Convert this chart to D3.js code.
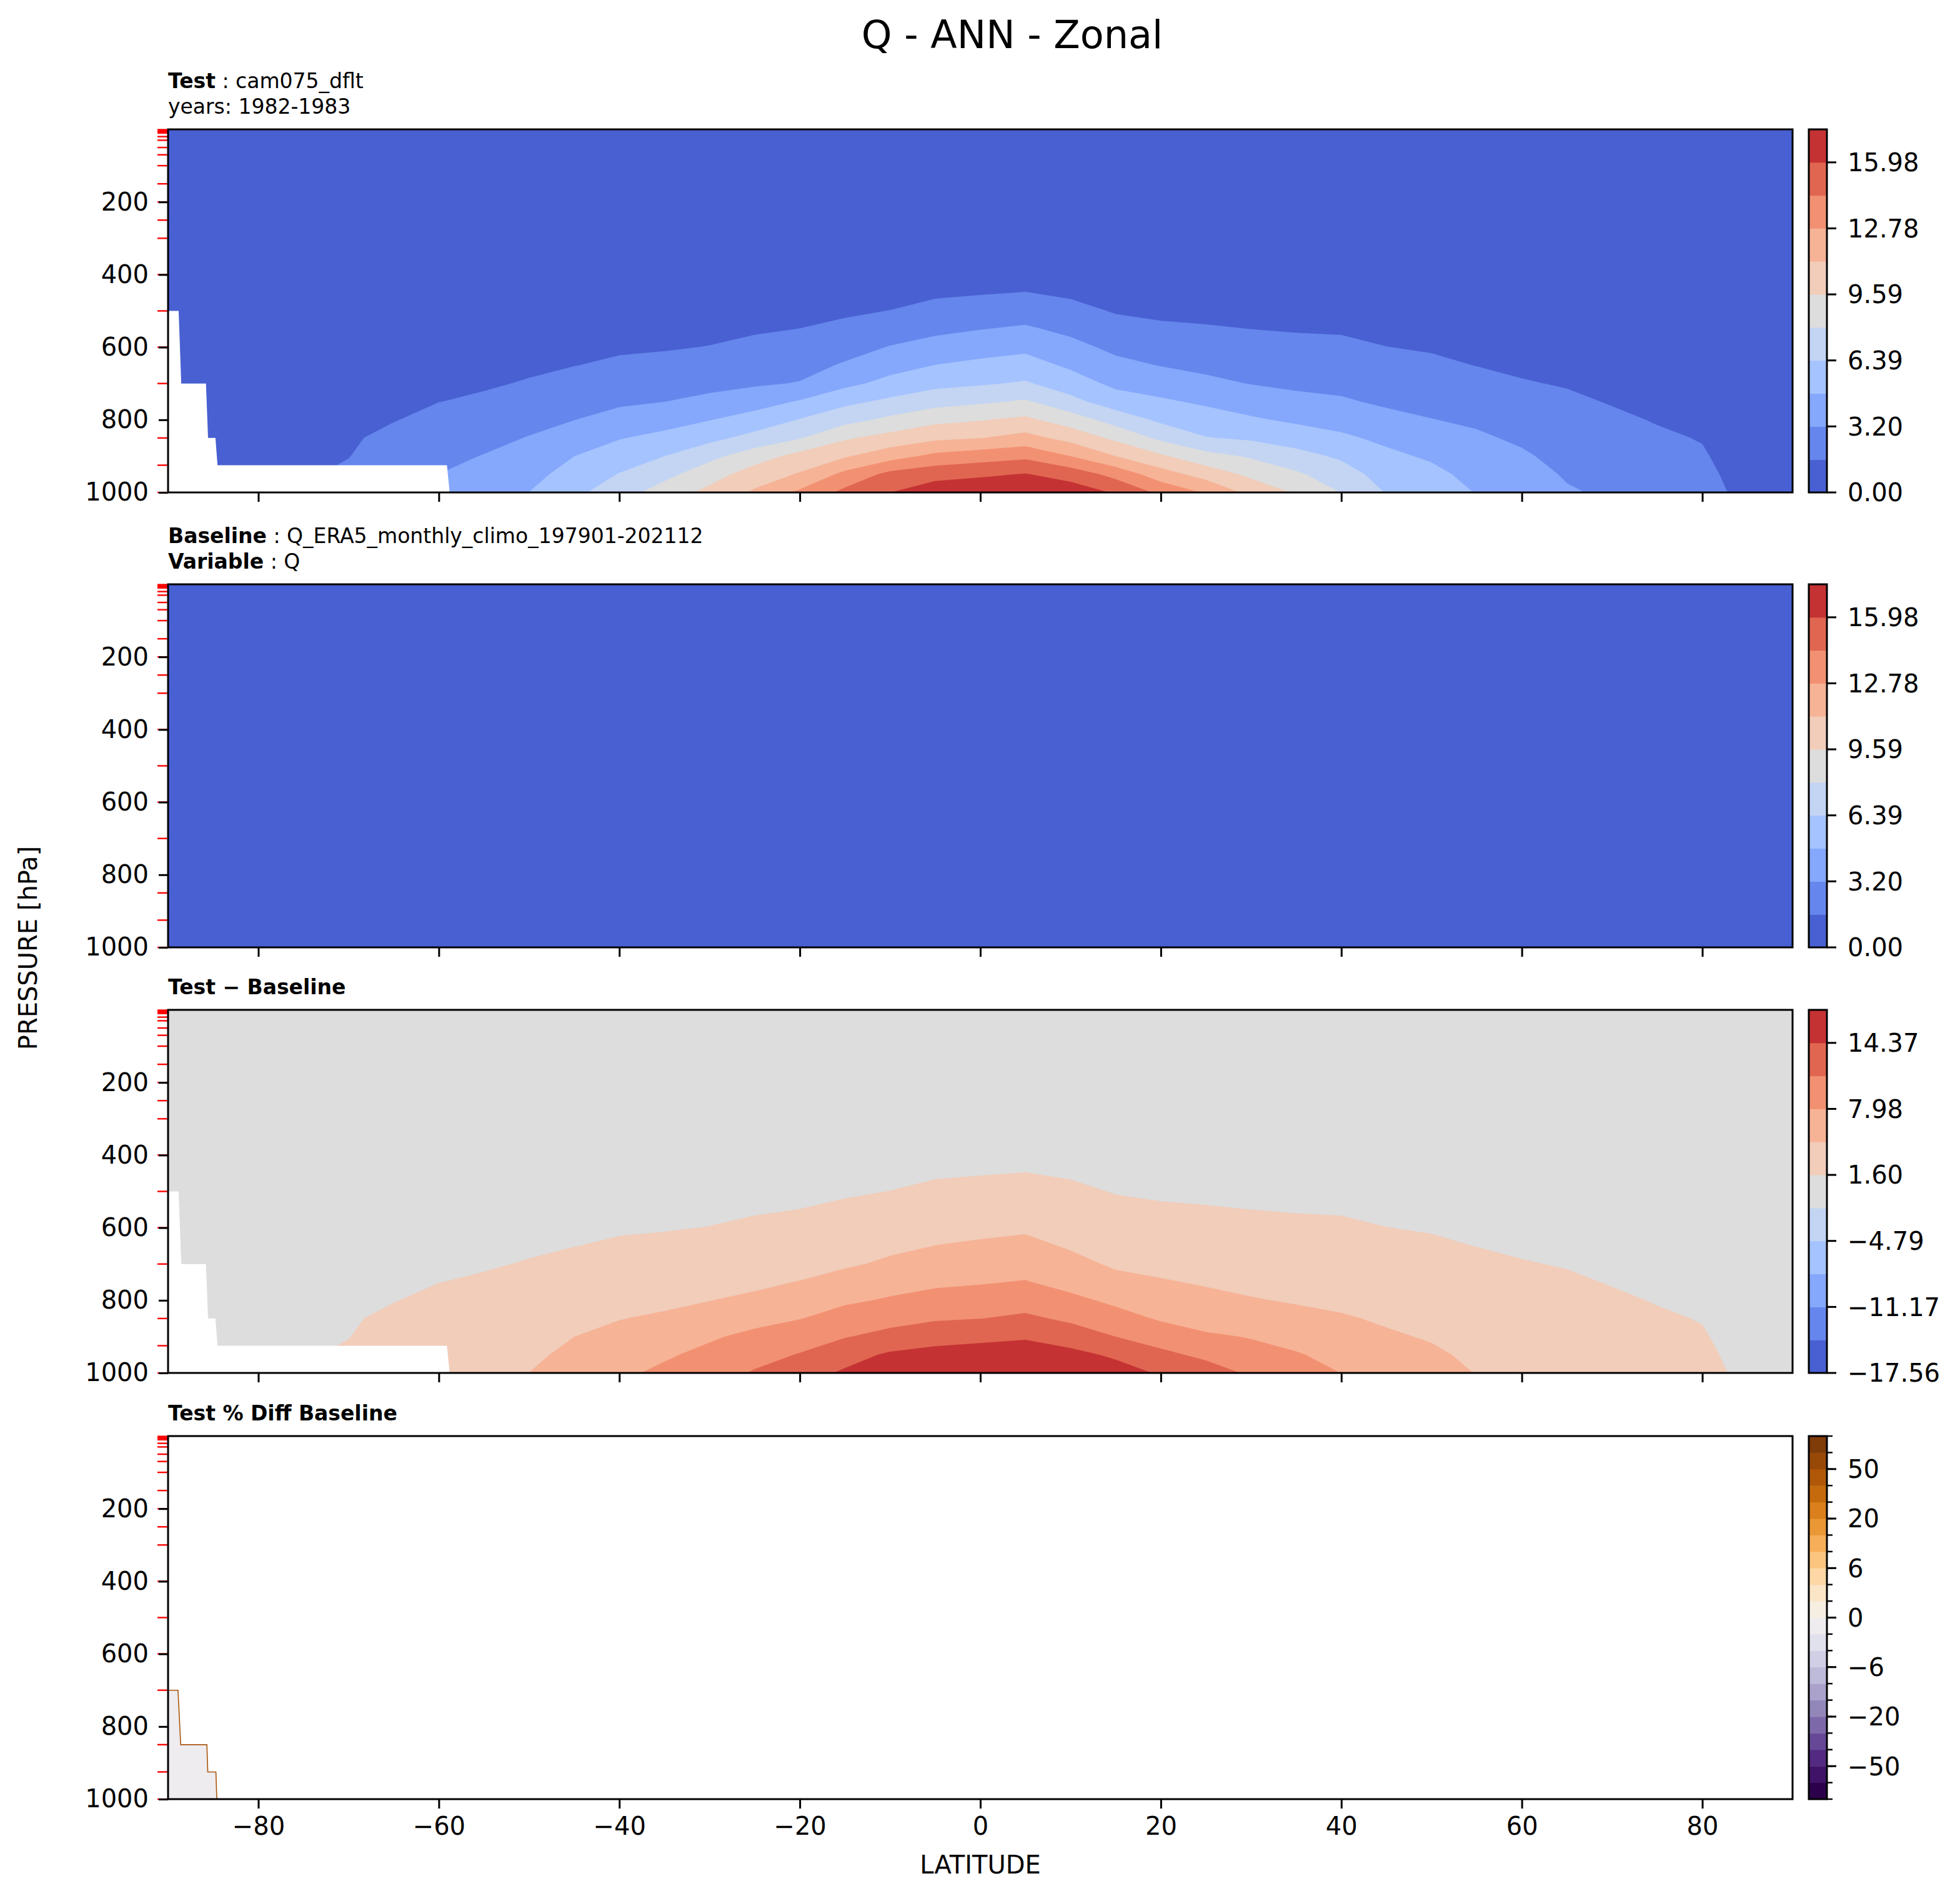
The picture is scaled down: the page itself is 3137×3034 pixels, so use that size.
<!DOCTYPE html>
<html>
<head>
<meta charset="utf-8">
<script src="https://cdn.jsdelivr.net/npm/d3@7"></script>
<style>
  body { margin: 0; background: #fff; }
  text { font-family: "DejaVu Sans", sans-serif; }
</style>
</head>
<body>
<div id="chart"></div>
<script>
// ---- data: zonal mean Q (g/kg) on a lat x pressure grid ----
const lats = [-90,-85,-80,-75,-70,-65,-60,-55,-50,-45,-40,-35,-30,-25,-20,-15,-10,-5,0,
  5,10,15,20,25,30,35,40,45,50,55,60,65,70,75,80,85,90]
const plevs = [0, 200, 400, 450, 500, 550, 600, 650, 700, 750, 800, 850, 900, 950, 1000]

// one row per pressure level, one value per latitude
const testQ = [
  [0.002,0.002,0.002,0.002,0.002,0.002,0.002,0.002,0.002,0.002,0.002,0.002,0.002,0.002,0.002,0.002,0.002,0.002,0.002,0.002,0.002,0.002,0.002,0.002,0.002,0.002,0.002,0.002,0.002,0.002,0.002,0.002,0.002,0.002,0.002,0.002,0.002],
  [0.03,0.03,0.03,0.03,0.03,0.04,0.04,0.05,0.05,0.06,0.06,0.07,0.08,0.09,0.1,0.11,0.12,0.13,0.13,0.13,0.12,0.11,0.1,0.09,0.08,0.07,0.06,0.06,0.05,0.05,0.04,0.04,0.04,0.03,0.03,0.03,0.03],
  [0.15,0.2,0.25,0.3,0.3,0.3,0.3,0.3,0.3,0.3,0.3,0.3,0.3,0.3,0.3,0.3,0.45,0.76,0.9,1.02,0.75,0.35,0.3,0.3,0.3,0.3,0.3,0.3,0.3,0.3,0.3,0.3,0.3,0.3,0.25,0.2,0.18],
  [0.2,0.26,0.32,0.4,0.42,0.46,0.48,0.5,0.52,0.56,0.58,0.6,0.63,0.68,0.74,0.83,1.03,1.36,1.49,1.63,1.35,0.91,0.8,0.78,0.73,0.7,0.69,0.63,0.59,0.55,0.52,0.5,0.48,0.45,0.39,0.28,0.25],
  [0.25,0.32,0.4,0.5,0.55,0.61,0.67,0.69,0.75,0.82,0.86,0.89,0.96,1.06,1.17,1.36,1.62,2.07,2.3,2.5,2.05,1.48,1.29,1.26,1.16,1.1,1.08,0.95,0.88,0.81,0.75,0.71,0.65,0.61,0.53,0.36,0.32],
  [0.3,0.38,0.48,0.6,0.67,0.77,0.85,0.89,0.97,1.08,1.14,1.19,1.29,1.44,1.61,1.96,2.43,2.84,3.15,3.4,2.83,2.14,1.85,1.71,1.59,1.5,1.47,1.28,1.17,1.06,0.97,0.91,0.83,0.76,0.68,0.44,0.39],
  [0.35,0.44,0.56,0.7,0.8,0.92,1.03,1.08,1.19,1.34,1.42,1.49,1.63,1.92,2.15,2.63,3.26,3.77,4.14,4.42,3.65,2.84,2.49,2.27,2.11,1.96,1.85,1.61,1.47,1.32,1.19,1.11,1.0,0.92,0.82,0.52,0.46],
  [0.4,0.5,0.64,0.8,0.92,1.08,1.22,1.28,1.41,1.57,1.81,1.97,2.21,2.46,2.68,3.35,4.19,4.82,5.16,5.45,4.52,3.6,3.14,2.83,2.62,2.44,2.33,2.06,1.85,1.57,1.41,1.32,1.18,1.07,0.97,0.6,0.53],
  [0.45,0.56,0.72,0.9,1.05,1.23,1.4,1.47,1.68,2.09,2.38,2.57,2.79,3.0,3.27,4.38,5.28,5.95,6.21,6.56,5.56,4.42,4.05,3.54,3.14,2.92,2.81,2.51,2.3,2.02,1.67,1.52,1.36,1.23,1.11,0.68,0.6],
  [0.5,0.62,0.8,1.0,1.17,1.39,1.58,1.77,2.21,2.63,2.95,3.18,3.55,4.1,4.92,6.0,6.71,7.38,7.74,8.17,6.86,5.56,5.01,4.54,4.02,3.59,3.36,2.97,2.76,2.49,2.1,1.79,1.53,1.38,1.25,0.76,0.67],
  [0.55,0.68,0.88,1.1,1.3,1.54,1.97,2.26,2.74,3.17,3.74,4.16,4.73,5.47,6.46,7.45,8.32,9.15,9.49,9.91,8.78,7.31,6.08,5.49,4.99,4.52,4.18,3.61,3.23,2.96,2.53,2.1,1.79,1.53,1.39,0.84,0.74],
  [0.6,0.74,0.96,1.2,1.42,1.94,2.38,2.76,3.26,3.97,4.7,5.22,5.94,6.89,7.86,9.36,10.15,10.84,11.13,11.72,10.63,9.22,7.62,6.45,6.14,5.65,5.06,4.44,3.89,3.41,2.96,2.42,2.09,1.76,1.54,0.92,0.81],
  [0.65,0.8,1.04,1.3,1.55,2.47,2.79,3.25,3.77,4.78,5.58,6.38,7.55,8.83,10.11,11.01,12.11,13.17,13.63,14.01,12.75,11.16,9.8,8.5,7.79,6.91,6.14,5.14,4.56,3.84,3.39,2.73,2.39,2.04,1.71,1.0,0.88],
  [0.7,0.85,1.1,1.4,1.9,3.0,3.2,3.74,4.29,5.4,6.45,7.54,8.88,10.35,11.31,13.19,14.82,15.42,15.7,16.05,15.3,13.84,11.89,10.52,9.21,8.22,7.09,5.74,5.22,4.27,3.82,3.04,2.69,2.32,1.9,1.1,0.95],
  [0.75,0.9,1.15,1.5,2.4,3.5,3.6,4.24,4.8,6.0,7.3,8.7,10.04,11.4,13.08,14.8,15.95,16.9,17.2,17.5,16.9,15.8,14.0,12.6,10.7,9.4,7.95,6.3,5.87,4.7,4.25,3.35,2.95,2.6,2.1,1.2,1.0]
]

// baseline (kg/kg, ERA5 units) on a coarser grid
const baseLats = [-90, -60, -30, 0, 30, 60, 90]
const basePlevs = [0, 200, 400, 600, 800, 1000]
const baseQ = [
  [0.000002,0.000002,0.000002,0.000002,0.000002,0.000002,0.000002],
  [0.00003,0.00006,0.0001,0.00015,0.0001,0.00006,0.00003],
  [0.0003,0.0006,0.0009,0.0011,0.0009,0.0006,0.0003],
  [0.0006,0.0012,0.0022,0.0042,0.0022,0.0013,0.0007],
  [0.0008,0.0025,0.0052,0.0095,0.005,0.0028,0.0012],
  [0.001,0.0038,0.01,0.017,0.0105,0.0045,0.0017]
]

// below-ground (masked) region of the test data: step outline (lat, hPa)
const maskLat = [-90, -88.83, -88.54, -85.8, -85.57, -84.75, -84.52, -59.1, -58.8, -90]
const maskP   = [500, 500, 700, 700, 850, 850, 925, 925, 1000, 1000]

// the only in-range cells of the percent difference
const pctPatchLat = [-90, -88.9, -88.6, -85.7, -85.6, -84.7, -84.6, -90]
const pctPatchP   = [700, 700, 850, 850, 925, 925, 1000, 1000]
const pctPatchValue = -0.8

// contour levels
const testLevels = [0, 1.598, 3.196, 4.794, 6.392, 7.99, 9.588, 11.186, 12.784, 14.382, 15.98, 17.578]
const diffLevels = [-17.56, -14.368, -11.174, -7.983, -4.79, -1.597, 1.597, 4.79, 7.983, 11.174, 14.368, 17.56]
const pctLevels = [-100,-75,-50,-40,-30,-20,-10,-8,-6,-4,-2,0,2,4,6,8,10,20,30,40,50,75,100]
const pctTicks = [-50, -20, -6, 0, 6, 20, 50]

// model level pressures marked on the y axis
const redTickLevels = [1,2,3,5,7,10,20,30,50,70,100,150,200,250,300,400,500,600,700,850,925,1000]
const xTicks = [-80,-60,-40,-20,0,20,40,60,80]
const yTicks = [200,400,600,800,1000]

// ---- styles ----
const coolwarm11 = ["#4860d1","#6586ec","#85a8fc","#a5c3fe","#c3d5f3","#dddddd",
  "#f1cdba","#f7b396","#f29172","#e06651","#c53233"]
const pctColors = d3.range(pctLevels.length - 1).map(i => d3.interpolatePuOr(i / (pctLevels.length - 2)))

const W = 3137, H = 3034
const left = 269, plotW = 2600, plotH = 581
const panelTops = [207, 935, 1616, 2298]
const cbX = 2895, cbW = 29
const tickFont = 40, headFont = 33

const svg = d3.select("#chart").append("svg")
  .attr("width", W).attr("height", H)
  .attr("viewBox", `0 0 ${W} ${H}`)

const x = d3.scaleLinear().domain([-90, 90]).range([0, plotW])
const y = d3.scaleLinear().domain([0, 1000]).range([0, plotH])

// bilinear lookup in the baseline grid
const baseAt = (lat, p) => {
  const i = Math.max(0, Math.min(baseLats.length - 2, d3.bisectRight(baseLats, lat) - 1))
  const j = Math.max(0, Math.min(basePlevs.length - 2, d3.bisectRight(basePlevs, p) - 1))
  const tx = (lat - baseLats[i]) / (baseLats[i+1] - baseLats[i])
  const ty = (p - basePlevs[j]) / (basePlevs[j+1] - basePlevs[j])
  const a = baseQ[j][i] * (1 - tx) + baseQ[j][i+1] * tx
  const b = baseQ[j+1][i] * (1 - tx) + baseQ[j+1][i+1] * tx
  return a * (1 - ty) + b * ty
}

const diffQ = testQ.map((row, j) => row.map((v, i) => v - baseAt(lats[i], plevs[j])))

// grid coordinates from d3.contours -> plot pixels
const gridPath = (gl, gp) => {
  const n = gl.length, m = gp.length
  const li = d3.scaleLinear().domain(d3.range(n)).range(gl)
  const pi = d3.scaleLinear().domain(d3.range(m)).range(gp)
  return d3.geoPath(d3.geoTransform({
    point: function(cx, cy) {
      const fx = Math.max(0, Math.min(n - 1, cx - 0.5))
      const fy = Math.max(0, Math.min(m - 1, cy - 0.5))
      this.stream.point(x(li(fx)), y(pi(fy)))
    }
  }))
}

const drawContours = (g, gl, gp, grid, levels, colors) => {
  const values = grid.flat()
  const bands = d3.contours().size([gl.length, gp.length])
    .thresholds(levels.slice(0, -1))(values)
  const path = gridPath(gl, gp)
  g.selectAll("path.band")
    .data(bands)
    .join("path")
    .attr("class", "band")
    .attr("d", path)
    .attr("fill", (d, k) => colors[k])
    .attr("stroke", (d, k) => colors[k])
    .attr("stroke-width", 0.6)
}

const stepLine = d3.line().x(d => x(d[0])).y(d => y(d[1]))

const addPanel = (idx, header) => {
  const top = panelTops[idx]
  const g = svg.append("g").attr("transform", `translate(${left},${top})`)
  g.append("clipPath").attr("id", "clip" + idx)
    .append("rect").attr("width", plotW).attr("height", plotH)
  const plot = g.append("g").attr("clip-path", `url(#clip${idx})`)

  // header text above the panel
  header.forEach((line, k) => {
    const t = g.append("text")
      .attr("x", 0)
      .attr("y", -25 - (header.length - 1 - k) * 41)
      .attr("font-size", headFont)
    if (line.b) t.append("tspan").attr("font-weight", "bold").text(line.b)
    if (line.r) t.append("tspan").text(line.r)
  })

  // red ticks at model levels
  g.selectAll("line.red")
    .data(redTickLevels)
    .join("line")
    .attr("class", "red")
    .attr("x1", -17).attr("x2", 0)
    .attr("y1", d => y(d)).attr("y2", d => y(d))
    .attr("stroke", "#ff0000").attr("stroke-width", 2.4)

  const yAxis = g.append("g")
    .call(d3.axisLeft(y).tickValues(yTicks).tickSize(15).tickPadding(16)
      .tickFormat(d3.format("d")))
  const xAxis = g.append("g")
    .attr("transform", `translate(0,${plotH})`)
    .call(d3.axisBottom(x).tickValues(xTicks).tickSize(15).tickPadding(14)
      .tickFormat(idx === 3 ? d3.format("d") : ""))
  ;[yAxis, xAxis].forEach(a => {
    a.select(".domain").remove()
    a.selectAll("line").attr("stroke-width", 3)
    a.selectAll("text").attr("font-size", tickFont).attr("fill", "#000")
      .attr("font-family", "DejaVu Sans")
  })
  return {g, plot}
}

const addColorbar = (g, colors, tickIdx, labels, minorIdx) => {
  const n = colors.length
  const cb = g.append("g").attr("transform", `translate(${cbX - left},0)`)
  const cy = d3.scaleLinear().domain([0, n]).range([plotH, 0])
  cb.selectAll("rect.c")
    .data(colors)
    .join("rect")
    .attr("class", "c")
    .attr("x", 0).attr("width", cbW)
    .attr("y", (d, i) => cy(i + 1))
    .attr("height", (d, i) => cy(i) - cy(i + 1) + 0.5)
    .attr("fill", d => d)
  if (minorIdx) {
    cb.selectAll("line.minor")
      .data(minorIdx)
      .join("line")
      .attr("class", "minor")
      .attr("x1", cbW).attr("x2", cbW + 9)
      .attr("y1", d => cy(d)).attr("y2", d => cy(d))
      .attr("stroke", "#000").attr("stroke-width", 2.4)
  }
  cb.selectAll("line.major")
    .data(tickIdx)
    .join("line")
    .attr("class", "major")
    .attr("x1", cbW).attr("x2", cbW + 15)
    .attr("y1", d => cy(d)).attr("y2", d => cy(d))
    .attr("stroke", "#000").attr("stroke-width", 3)
  cb.selectAll("text")
    .data(tickIdx)
    .join("text")
    .attr("x", cbW + 33)
    .attr("y", d => cy(d))
    .attr("dy", "0.36em")
    .attr("font-size", tickFont)
    .text((d, i) => labels[i])
  cb.append("rect")
    .attr("width", cbW).attr("height", plotH)
    .attr("fill", "none").attr("stroke", "#000").attr("stroke-width", 3)
}

const frame = g => g.append("rect")
  .attr("width", plotW).attr("height", plotH)
  .attr("fill", "none").attr("stroke", "#000").attr("stroke-width", 3)

const maskPts = maskLat.map((d, i) => [d, maskP[i]])
const fmt2 = d3.format(".2f")
const cbTicks = [0, 2, 4, 6, 8, 10]

// panel 1: test
const p1 = addPanel(0, [{b: "Test", r: " : cam075_dflt"}, {r: "years: 1982-1983"}])
drawContours(p1.plot, lats, plevs, testQ, testLevels, coolwarm11)
p1.plot.append("path").attr("d", stepLine(maskPts) + "Z").attr("fill", "#fff")
frame(p1.g)
addColorbar(p1.g, coolwarm11, cbTicks, cbTicks.map(i => fmt2(testLevels[i])))

// panel 2: baseline
const p2 = addPanel(1, [{b: "Baseline", r: " : Q_ERA5_monthly_climo_197901-202112"}, {b: "Variable", r: " : Q"}])
drawContours(p2.plot, baseLats, basePlevs, baseQ, testLevels, coolwarm11)
frame(p2.g)
addColorbar(p2.g, coolwarm11, cbTicks, cbTicks.map(i => fmt2(testLevels[i])))

// panel 3: test - baseline
const p3 = addPanel(2, [{b: "Test \u2212 Baseline"}])
drawContours(p3.plot, lats, plevs, diffQ, diffLevels, coolwarm11)
p3.plot.append("path").attr("d", stepLine(maskPts) + "Z").attr("fill", "#fff")
frame(p3.g)
addColorbar(p3.g, coolwarm11, cbTicks, cbTicks.map(i => fmt2(diffLevels[i])))

// panel 4: percent difference (values out of range except a sliver near the pole)
const p4 = addPanel(3, [{b: "Test % Diff Baseline"}])
const pctBand = d3.bisectRight(pctLevels, pctPatchValue) - 1
const patchPts = pctPatchLat.map((d, i) => [d, pctPatchP[i]])
p4.plot.append("path")
  .attr("d", stepLine(patchPts) + "Z")
  .attr("fill", pctColors[pctBand])
p4.plot.append("path")
  .attr("d", stepLine(patchPts.slice(0, 7)))
  .attr("fill", "none").attr("stroke", "#a9560e").attr("stroke-width", 1.6)
frame(p4.g)
addColorbar(p4.g, pctColors, pctTicks.map(v => pctLevels.indexOf(v)),
  pctTicks.map(v => d3.format("d")(v)), d3.range(pctLevels.length))

// figure titles
svg.append("text")
  .attr("x", 1620).attr("y", 77)
  .attr("text-anchor", "middle")
  .attr("font-size", 62)
  .text("Q - ANN - Zonal")

svg.append("text")
  .attr("x", left + plotW / 2).attr("y", 2998)
  .attr("text-anchor", "middle")
  .attr("font-size", tickFont)
  .text("LATITUDE")

svg.append("text")
  .attr("transform", "translate(59,1517) rotate(-90)")
  .attr("text-anchor", "middle")
  .attr("font-size", tickFont)
  .text("PRESSURE [hPa]")
</script>
</body>
</html>
